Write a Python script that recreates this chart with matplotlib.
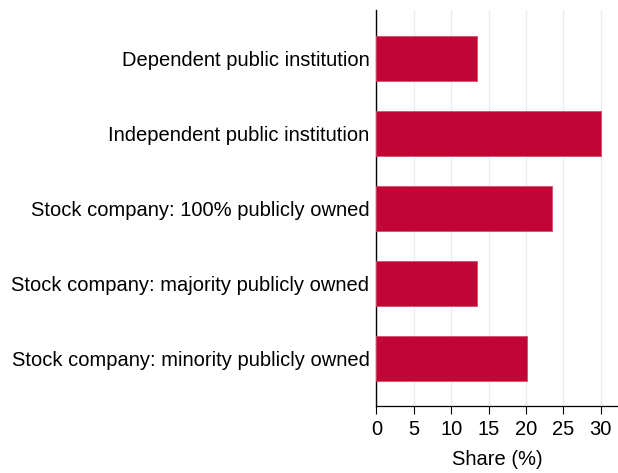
import matplotlib.pyplot as plt

# data
categories = [
    'Dependent public institution',
    'Independent public institution',
    'Stock company: 100% publicly owned',
    'Stock company: majority publicly owned',
    'Stock company: minority publicly owned',
]
shares = [13.4, 30.05, 23.45, 13.4, 20.2]
xticks = [0, 5, 10, 15, 20, 25, 30]

plt.rcParams['font.family'] = ['Liberation Sans', 'DejaVu Sans']

fig = plt.figure(figsize=(6.18, 4.73), dpi=100)
ax = fig.add_axes([0.609, 0.142, 0.391, 0.837])

ypos = list(range(len(categories)))
ax.barh(ypos, shares, height=0.6, color='#C10534', edgecolor='#D2506E',
        linewidth=0.6, zorder=3)

ax.set_ylim(len(categories) - 1 + 0.635, -0.645)
ax.set_xlim(0, 32.3)
ax.set_yticks(ypos)
ax.set_yticklabels(categories, fontsize=14.5)
ax.set_xticks(xticks)
ax.set_xticklabels([str(t) for t in xticks], fontsize=14.5)
ax.tick_params(axis='y', length=0, pad=5)
ax.tick_params(axis='x', length=6, width=0.8, direction='out', pad=4)
ax.set_xlabel('Share (%)', fontsize=14.5, labelpad=8)

ax.xaxis.grid(True, color='#E6EEF1', linewidth=1.0, zorder=0)
for side in ['top', 'right']:
    ax.spines[side].set_visible(False)
ax.spines['left'].set_linewidth(1.0)
ax.spines['bottom'].set_linewidth(0.9)

fig.savefig('out.png', dpi=100)
